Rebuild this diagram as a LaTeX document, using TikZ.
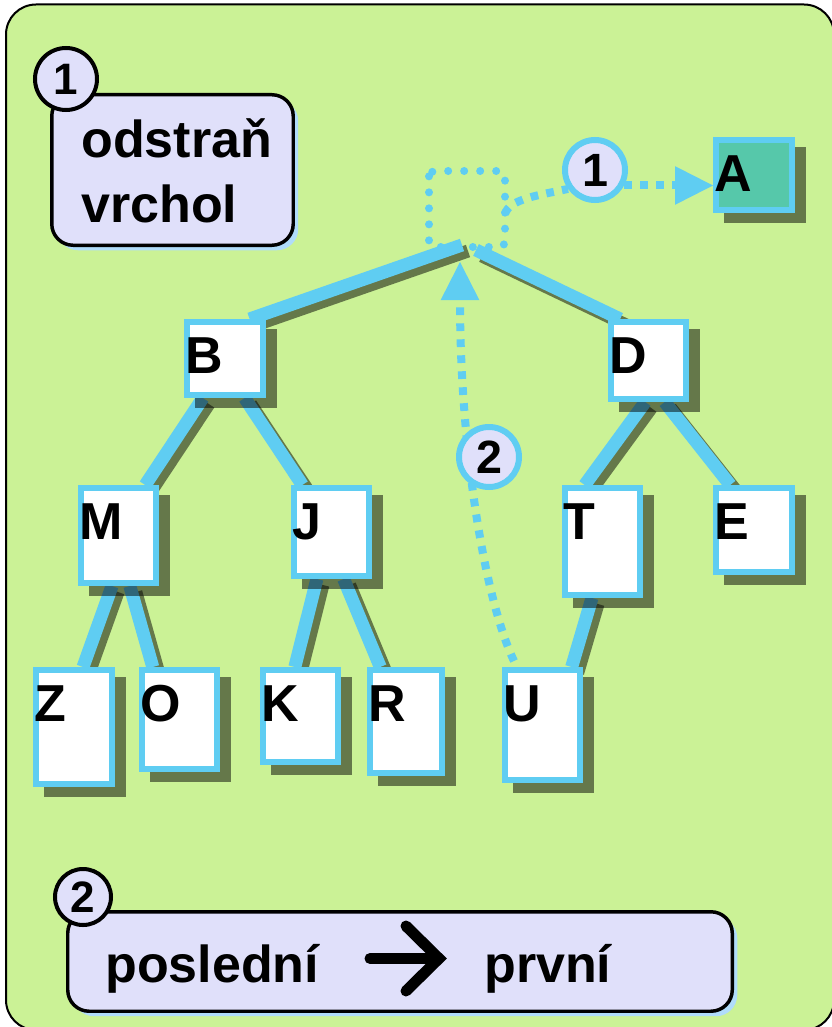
\documentclass[tikz,border=0pt]{standalone}
\usepackage{fontspec}
\setmainfont{Liberation Sans}
\usetikzlibrary{calc,arrows.meta,shadows}
\definecolor{bggreen}{RGB}{203,242,150}
\definecolor{lav}{RGB}{224,224,250}
\definecolor{tblue}{RGB}{95,205,242}
\definecolor{aqfill}{RGB}{86,200,170}
\definecolor{lshadow}{RGB}{176,220,250}
\pgfdeclarelayer{bg}
\pgfdeclarelayer{eshadow}
\pgfdeclarelayer{edges}
\pgfdeclarelayer{nshadow}
\pgfsetlayers{bg,eshadow,edges,nshadow,main}
\newcommand\bigf{\fontsize{39pt}{48pt}\selectfont\bfseries}
\newcommand\digf{\fontsize{33pt}{36pt}\selectfont\bfseries}
\newcommand\digb{\fontsize{35pt}{38pt}\selectfont\bfseries}
\tikzset{
  tn/.style={draw=tblue, line width=4.5pt, fill=white, inner sep=0pt},
  lbl/.style={font=\bigf, inner sep=0pt, anchor=base west},
  eblue/.style={draw=tblue, line width=9.75pt},
  eshd/.style={draw=black, draw opacity=0.5, line width=9.75pt},
  nshd/.style={fill=black, fill opacity=0.5},
  dsh/.style={draw=tblue, line width=6pt, dash pattern=on 5.8pt off 6.2pt},
  dotline/.style={draw=tblue, line width=6pt, line cap=round, dash pattern=on 0pt off 12pt},
  badgeK/.style={circle, draw=black, line width=3pt, fill=lav, inner sep=0pt, minimum size=46.5pt, font=\digf},
  badgeB/.style={circle, draw=tblue, line width=4.5pt, fill=lav, inner sep=0pt, minimum size=45pt, font=\digb},
  tbox/.style={rectangle, rounded corners=16pt, draw=black, line width=2.6pt, fill=lav, inner sep=0pt,
    drop shadow={shadow xshift=3.75pt, shadow yshift=-3.75pt, fill=lshadow, opacity=1}},
  tiptri/.style={-{Triangle[length=28.5pt,width=29pt,line width=0pt]}},
  chev/.style={draw=black, line width=8.25pt}
}
% tree node: [fill] name, L, T, R, B, letter
\newcommand\tnode[7][white]{%
  \node[tn, fill=#1, minimum width={(#5-#3-6)*0.75pt}, minimum height={(#6-#4-6)*0.75pt}] (#2) at ({(#3+#5)/2},{(#4+#6)/2}) {};
  \node[lbl] (#2l) at ({#3+1},{#4+54}) {#7};
  \begin{pgfonlayer}{nshadow}
    \fill[nshd] ([shift={(11,10)}]#2.north west) rectangle ([shift={(11,10)}]#2.south east);
  \end{pgfonlayer}}
\newcommand\edge[2]{%
  \begin{pgfonlayer}{eshadow}\draw[eshd,transform canvas={shift={(6,6)}}] #1 -- #2;\end{pgfonlayer}%
  \begin{pgfonlayer}{edges}\draw[eblue] #1 -- #2;\end{pgfonlayer}}
\begin{document}
\begin{tikzpicture}[x=0.75pt,y=-0.75pt]
\useasboundingbox (0,0) rectangle (831,1027);
\clip (0,0) rectangle (831,1027);
\begin{pgfonlayer}{bg}
  \fill[white] (0,0) rectangle (831,1027);
  \draw[fill=bggreen, line width=1.5pt, rounded corners=22.5pt] (6,4.5) rectangle (834,1030);
\end{pgfonlayer}

% tree nodes
\tnode[aqfill]{A}{713}{137}{795}{213}{A}
\tnode{B}{184}{319}{266}{398}{B}
\tnode{D}{608}{319}{689}{402}{D}
\tnode{M}{78}{485}{159}{586}{M}
\tnode{J}{291}{485}{372}{579}{J}
\tnode{T}{562}{485}{643}{598}{T}
\tnode{E}{713}{485}{795}{575}{E}
\tnode{Z}{33}{667}{115}{787}{Z}
\tnode{O}{139}{667}{220}{772}{O}
\tnode{K}{260}{667}{341}{765}{K}
\tnode{R}{367}{667}{445}{776}{R}
\tnode{U}{502}{667}{583}{783}{U}

% root ends
\coordinate (rootL) at (462,245);
\coordinate (rootR) at (476,250);

% edges
\edge{(rootL)}{($(B.north west)!0.8!(B.north east)$)}
\edge{(rootR)}{($(D.north west)!0.15!(D.north east)$)}
\edge{($(B.south west)!0.23!(B.south east)$)}{($(M.north west)!0.83!(M.north east)$)}
\edge{($(B.south west)!0.74!(B.south east)$)}{($(J.north west)!0.14!(J.north east)$)}
\edge{($(M.south west)!0.42!(M.south east)$)}{($(Z.north west)!0.61!(Z.north east)$)}
\edge{($(M.south west)!0.64!(M.south east)$)}{($(O.north west)!0.17!(O.north east)$)}
\edge{($(J.south west)!0.32!(J.south east)$)}{($(K.north west)!0.43!(K.north east)$)}
\edge{($(J.south west)!0.65!(J.south east)$)}{($(R.north west)!0.17!(R.north east)$)}
\edge{($(D.south west)!0.46!(D.south east)$)}{($(T.north west)!0.28!(T.north east)$)}
\edge{($(D.south west)!0.70!(D.south east)$)}{($(E.north west)!0.21!(E.north east)$)}
\edge{($(T.south west)!0.37!(T.south east)$)}{($(U.north west)!0.86!(U.north east)$)}

% removed root: dotted square
\draw[dotline, rounded corners=4pt] (429,171) rectangle (505,247);

% badges on the arrows
\node[badgeB] (c1) at (595,170) {1};
\node[badgeB] (c2) at (489,457) {2};

% arrow 1: root -> A
\coordinate (s1) at (505,214);
\begin{pgfonlayer}{edges}
  \draw[dsh] (s1) .. controls (509,199) and (540,195) .. (c1.215);
  \draw[dsh,tiptri] (c1.-28) -- (c1.-28 -| A.west);
\end{pgfonlayer}

% arrow 2: U -> root
\coordinate (u2) at (514,661);
\coordinate (tip2) at (460,262);
\begin{pgfonlayer}{edges}
  \draw[dsh,tiptri] (u2) .. controls (485,600) and (460,450) .. (tip2);
\end{pgfonlayer}

% box 1
\node[tbox, minimum width=181.1pt, minimum height=112.9pt] (box1) at (172.5,170) {};
\node[lbl] (t1a) at (81,157) {odstraň};
\node[lbl] (t1b) at (81,222) {vrchol};
\node[badgeK] (n1) at (66,79) {1};

% box 2
\node[tbox, minimum width=498.4pt, minimum height=74.6pt] (box2) at (400,961.5) {};
\node[lbl] (t2a) at (105,982) {poslední};
\node[lbl] (t2b) at (484,982) {první};
\draw[chev, line cap=round] (370,958.5) -- (434,958.5);
\draw[chev, line cap=round, line join=miter] (406,926) -- (439,958.5) -- (406,991);
\node[badgeK, minimum size=42pt] (n2) at (83,897) {2};
\end{tikzpicture}
\end{document}
